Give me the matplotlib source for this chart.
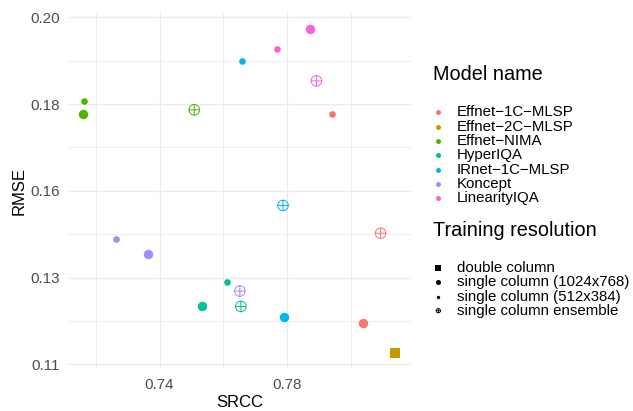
import numpy as np
import matplotlib
matplotlib.use("Agg")
import matplotlib.pyplot as plt
from matplotlib.path import Path

# ---------------- data ----------------
models = ["Effnet-1C-MLSP", "Effnet-2C-MLSP", "Effnet-NIMA", "HyperIQA",
          "IRnet-1C-MLSP", "Koncept", "LinearityIQA"]
model_colors = ["#F8766D", "#C49A00", "#53B400", "#00C094",
                "#00B6EB", "#A58AFF", "#FB61D7"]
resolutions = ["double column", "single column (1024x768)",
               "single column (512x384)", "single column ensemble"]

point_model = ["Effnet-1C-MLSP", "Effnet-1C-MLSP", "Effnet-1C-MLSP",
               "Effnet-2C-MLSP",
               "Effnet-NIMA", "Effnet-NIMA", "Effnet-NIMA",
               "HyperIQA", "HyperIQA", "HyperIQA",
               "IRnet-1C-MLSP", "IRnet-1C-MLSP", "IRnet-1C-MLSP",
               "Koncept", "Koncept", "Koncept",
               "LinearityIQA", "LinearityIQA", "LinearityIQA"]
point_res = ["single column (512x384)", "single column (1024x768)", "single column ensemble",
             "double column",
             "single column (512x384)", "single column (1024x768)", "single column ensemble",
             "single column (512x384)", "single column (1024x768)", "single column ensemble",
             "single column (512x384)", "single column (1024x768)", "single column ensemble",
             "single column (512x384)", "single column (1024x768)", "single column ensemble",
             "single column (512x384)", "single column (1024x768)", "single column ensemble"]
srcc = [0.7942, 0.8037, 0.8093,
        0.8138,
        0.7163, 0.7161, 0.7509,
        0.7611, 0.7533, 0.7655,
        0.7660, 0.7789, 0.7787,
        0.7263, 0.7364, 0.7652,
        0.7769, 0.7873, 0.7892]
rmse = [0.1750, 0.1206, 0.1440,
        0.1130,
        0.1782, 0.1749, 0.1760,
        0.1313, 0.1250, 0.1250,
        0.1887, 0.1223, 0.1512,
        0.1424, 0.1385, 0.1290,
        0.1918, 0.1969, 0.1835]

x_breaks = [0.74, 0.78]
x_labels = ["0.74", "0.78"]
x_minor = [0.72, 0.76, 0.80]
y_breaks = [0.11, 0.1325, 0.155, 0.1775, 0.20]
y_labels = ["0.11", "0.13", "0.16", "0.18", "0.20"]
y_minor = [0.12125, 0.14375, 0.16625, 0.18875]

# ---------------- styling ----------------
plt.rcParams['font.family'] = ['Liberation Sans', 'DejaVu Sans']
W, H = 633, 411
fig = plt.figure(figsize=(W / 100, H / 100), dpi=100)

# circle-plus marker (ggplot shape 10)
circ = Path.unit_circle()
cross = Path([(-1, 0), (1, 0), (0, -1), (0, 1)],
             [Path.MOVETO, Path.LINETO, Path.MOVETO, Path.LINETO])
oplus = Path.make_compound_path(circ, cross)

shape_spec = {
    "double column": dict(marker="s", s=50, filled=True),
    "single column (1024x768)": dict(marker="o", s=46, filled=True),
    "single column (512x384)": dict(marker="o", s=23, filled=True),
    "single column ensemble": dict(marker=oplus, s=58, filled=False),
}
color_of = dict(zip(models, model_colors))

left, right, top, bottom = 68.3, 411.0, 13.3, 368.3
ax = fig.add_axes([left / W, 1 - bottom / H, (right - left) / W, (bottom - top) / H])
for sp in ax.spines.values():
    sp.set_visible(False)
ax.set_xlim(0.71141, 0.81884)
ax.set_ylim(0.10896, 0.20103)
ax.set_xticks(x_breaks)
ax.set_xticklabels(x_labels)
ax.set_xticks(x_minor, minor=True)
ax.set_yticks(y_breaks)
ax.set_yticklabels(y_labels)
ax.set_yticks(y_minor, minor=True)
ax.tick_params(which="both", length=0)
ax.tick_params(axis="x", labelsize=11, labelcolor="#4D4D4D", pad=7)
ax.tick_params(axis="y", labelsize=11, labelcolor="#4D4D4D", pad=6)
ax.grid(which="major", color="#EBEBEB", linewidth=0.9)
ax.grid(which="minor", color="#EBEBEB", linewidth=0.6)
ax.set_axisbelow(True)
ax.set_xlabel("SRCC", fontsize=12, labelpad=2)
ax.set_ylabel("RMSE", fontsize=12, labelpad=3)

for m, r, xv, yv in zip(point_model, point_res, srcc, rmse):
    sp = shape_spec[r]
    c = color_of[m]
    if sp["filled"]:
        ax.scatter([xv], [yv], marker=sp["marker"], s=sp["s"], color=c,
                   linewidths=0, zorder=3)
    else:
        ax.scatter([xv], [yv], marker=sp["marker"], s=sp["s"], facecolors="none",
                   edgecolors=c, linewidths=0.7, zorder=3)

# ---------------- legends (pixel coordinates) ----------------
lax = fig.add_axes([0, 0, 1, 1])
lax.set_xlim(0, W)
lax.set_ylim(H, 0)
lax.axis("off")

lab_fs = 10.8
lax.text(432.7, 75, "Model name", fontsize=14.3, va="center", ha="left")
y0, dy = 112.3, 14.33
for i, (m, c) in enumerate(zip(models, model_colors)):
    yy = y0 + i * dy
    lax.scatter([438.3], [yy], s=13, color=c, linewidths=0)
    lax.text(456.7, yy, m.replace("-", "\u2212"), fontsize=lab_fs, va="center", ha="left")

lax.text(432.7, 230, "Training resolution", fontsize=14.3, va="center", ha="left")
leg_shape = {
    "double column": dict(marker="s", s=14, filled=True),
    "single column (1024x768)": dict(marker="o", s=13, filled=True),
    "single column (512x384)": dict(marker="o", s=6, filled=True),
    "single column ensemble": dict(marker=oplus, s=10, filled=False),
}
y1, dy1 = 268.3, 14.13
for i, r in enumerate(resolutions):
    yy = y1 + i * dy1
    sp = leg_shape[r]
    if sp["filled"]:
        lax.scatter([438.3], [yy], marker=sp["marker"], s=sp["s"], color="black", linewidths=0)
    else:
        lax.scatter([438.3], [yy], marker=sp["marker"], s=sp["s"], facecolors="none",
                    edgecolors="black", linewidths=0.6)
    lax.text(456.7, yy, r, fontsize=lab_fs, va="center", ha="left")

fig.savefig("out.png", dpi=100)
